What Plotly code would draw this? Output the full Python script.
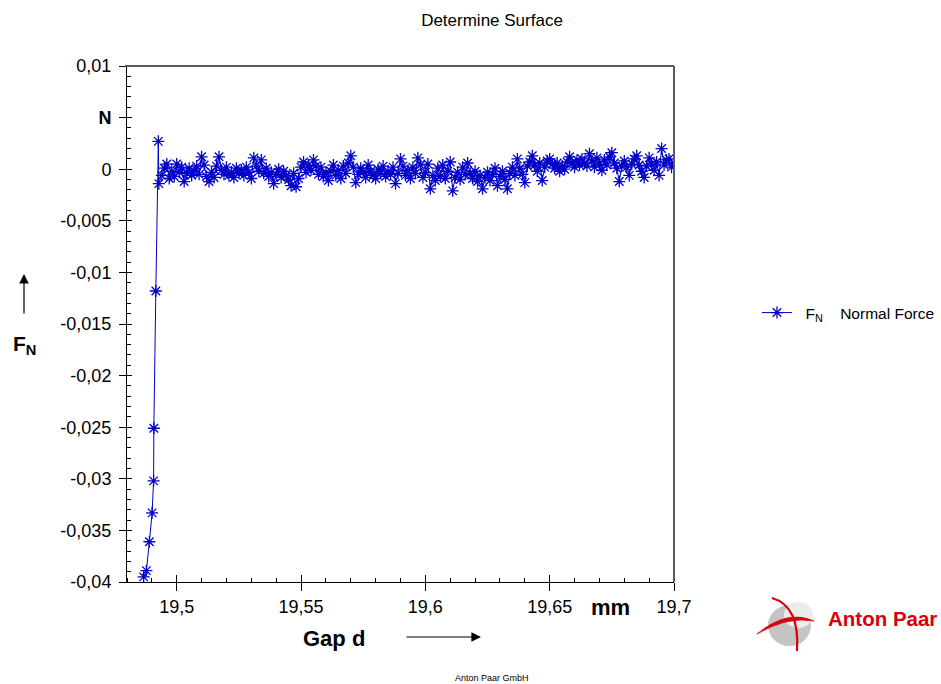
import plotly.graph_objects as go

# ---------------- data ----------------
gap_mm = [
    19.4867, 19.4878, 19.4890, 19.4901, 19.4907, 19.4908, 19.4916, 19.4926, 19.4928,
    19.494, 19.495, 19.496, 19.497, 19.498, 19.499, 19.500, 19.501, 19.502, 19.503,
    19.504, 19.505, 19.506, 19.507, 19.508, 19.509, 19.510, 19.511, 19.512, 19.513,
    19.514, 19.515, 19.516, 19.517, 19.518, 19.519, 19.520, 19.521, 19.522, 19.523,
    19.524, 19.525, 19.526, 19.527, 19.528, 19.529, 19.530, 19.531, 19.532, 19.533,
    19.534, 19.535, 19.536, 19.537, 19.538, 19.539, 19.540, 19.541, 19.542, 19.543,
    19.544, 19.545, 19.546, 19.547, 19.548, 19.549, 19.550, 19.551, 19.552, 19.553,
    19.554, 19.555, 19.556, 19.557, 19.558, 19.559, 19.560, 19.561, 19.562, 19.563,
    19.564, 19.565, 19.566, 19.567, 19.568, 19.569, 19.570, 19.571, 19.572, 19.573,
    19.574, 19.575, 19.576, 19.577, 19.578, 19.579, 19.580, 19.581, 19.582, 19.583,
    19.584, 19.585, 19.586, 19.587, 19.588, 19.589, 19.590, 19.591, 19.592, 19.593,
    19.594, 19.595, 19.596, 19.597, 19.598, 19.599, 19.600, 19.601, 19.602, 19.603,
    19.604, 19.605, 19.606, 19.607, 19.608, 19.609, 19.610, 19.611, 19.612, 19.613,
    19.614, 19.615, 19.616, 19.617, 19.618, 19.619, 19.620, 19.621, 19.622, 19.623,
    19.624, 19.625, 19.626, 19.627, 19.628, 19.629, 19.630, 19.631, 19.632, 19.633,
    19.634, 19.635, 19.636, 19.637, 19.638, 19.639, 19.640, 19.641, 19.642, 19.643,
    19.644, 19.645, 19.646, 19.647, 19.648, 19.649, 19.650, 19.651, 19.652, 19.653,
    19.654, 19.655, 19.656, 19.657, 19.658, 19.659, 19.660, 19.661, 19.662, 19.663,
    19.664, 19.665, 19.666, 19.667, 19.668, 19.669, 19.670, 19.671, 19.672, 19.673,
    19.674, 19.675, 19.676, 19.677, 19.678, 19.679, 19.680, 19.681, 19.682, 19.683,
    19.684, 19.685, 19.686, 19.687, 19.688, 19.689, 19.690, 19.691, 19.692, 19.693,
    19.694, 19.695, 19.696, 19.697, 19.698, 19.699, 19.700,
]

normal_force_N = [
    -0.0395, -0.0389, -0.0361, -0.0333, -0.0302, -0.0251, -0.0118, 0.0027, -0.0014,
    -0.0006, 0.0001, 0.0005, -0.0009, -0.0002, -0.0007, 0.0005, -0.0003, 0.0002, -0.0012,
    -0.0004, 0.0001, -0.0006, -0.0002, 0.0003, -0.0005, 0.0012, 0.0004, -0.0007, -0.0012,
    -0.0003, -0.0008, 0.0003, 0.0012, -0.0001, -0.0005, 0.0002, -0.0006, -0.0003, -0.0008,
    0.0001, -0.0004, -0.0001, -0.0006, 0.0002, -0.0003, -0.0009, 0.0011, 0.0003, -0.0002,
    0.0009, -0.0004, 0.0001, -0.0007, -0.0003, -0.0014, -0.0005, 0.0000, -0.0008, -0.0002,
    -0.0006, -0.0010, -0.0016, -0.0004, -0.0017, -0.0009, 0.0002, 0.0007, -0.0003, 0.0004,
    -0.0001, 0.0009, 0.0003, -0.0005, 0.0002, -0.0007, -0.0003, -0.0011, -0.0002, 0.0004,
    -0.0006, -0.0001, -0.0009, 0.0003, -0.0004, 0.0006, 0.0013, 0.0002, -0.0013, -0.0005,
    0.0001, -0.0003, -0.0008, 0.0004, -0.0002, -0.0006, -0.0009, 0.0000, -0.0004, 0.0003,
    -0.0007, -0.0002, -0.0005, 0.0002, -0.0014, -0.0004, 0.0010, 0.0003, -0.0006, -0.0001,
    -0.0009, 0.0002, -0.0004, 0.0011, 0.0004, -0.0008, -0.0003, 0.0005, -0.0019, -0.0006,
    -0.0011, 0.0001, -0.0007, 0.0004, -0.0009, -0.0002, 0.0007, -0.0021, -0.0008, -0.0003,
    -0.0010, 0.0002, -0.0005, 0.0006, -0.0004, -0.0009, -0.0002, -0.0012, -0.0006, -0.0019,
    -0.0008, -0.0003, -0.0011, -0.0005, 0.0001, -0.0016, -0.0007, -0.0002, -0.0010, -0.0019,
    -0.0004, 0.0002, -0.0006, 0.0010, 0.0001, -0.0005, -0.0013, 0.0003, 0.0007, 0.0013,
    0.0004, -0.0002, 0.0006, -0.0011, 0.0002, 0.0008, 0.0010, 0.0005, 0.0001, 0.0006,
    -0.0002, 0.0003, 0.0000, 0.0007, 0.0012, 0.0006, 0.0002, 0.0009, 0.0004, 0.0010,
    0.0006, 0.0003, 0.0015, 0.0008, 0.0002, 0.0011, 0.0005, -0.0001, 0.0009, 0.0004,
    0.0012, 0.0016, 0.0006, 0.0001, -0.0012, 0.0003, 0.0008, 0.0002, -0.0006, 0.0005,
    0.0010, 0.0013, 0.0004, -0.0002, -0.0008, 0.0003, 0.0011, 0.0005, -0.0001, 0.0007,
    -0.0006, 0.0020, 0.0004, 0.0009, 0.0010, 0.0002, 0.0006,
]

y_tick_vals = [0.01, 0.005, 0, -0.005, -0.01, -0.015, -0.02, -0.025, -0.03, -0.035, -0.04]
y_tick_text = ["0,01", "<b>N</b>", "0", "-0,005", "-0,01", "-0,015", "-0,02",
               "-0,025", "-0,03", "-0,035", "-0,04"]
x_tick_vals = [19.5, 19.55, 19.6, 19.65, 19.7]
x_tick_text = ["19,5", "19,55", "19,6", "19,65", "19,7"]

# ---------------- layout geometry ----------------
OFF = 0                      # body margin removed by the post script below
W, H = 941 - OFF, 684 - OFF  # figure size
PL, PR, PT, PB = 127, 674, 66, 582   # plot area in screen pixels
L, T = PL - OFF, PT - OFF
R, B = W - (PR - OFF), H - (PB - OFF)
X_RANGE = [19.48, 19.7]
Y_RANGE = [-0.04, 0.01]


def px(xp):
    return (xp - PL) / (PR - PL)


def py(yp):
    return (PB - yp) / (PB - PT)


BLUE = "#0000c8"
FONT = "Liberation Sans, Arial, sans-serif"
RED = "#d7000f"

fig = go.Figure()
fig.add_trace(go.Scatter(
    x=gap_mm, y=normal_force_N, mode="lines+markers",
    name="\u00a0\u00a0F<sub>N</sub>\u00a0\u00a0\u00a0\u00a0Normal Force",
    line=dict(color=BLUE, width=1),
    marker=dict(symbol="asterisk-open", size=10, color=BLUE,
                line=dict(color=BLUE, width=1.3)),
))
# helper overlay axes for the inner half of the major ticks
fig.add_trace(go.Scatter(x=[X_RANGE[0]], y=[Y_RANGE[0]], xaxis="x2", yaxis="y2",
                         mode="markers", marker=dict(opacity=0), showlegend=False,
                         hoverinfo="skip"))

fig.update_layout(
    width=W, height=H, autosize=False,
    margin=dict(l=L, r=R, t=T, b=B, pad=0, autoexpand=False),
    paper_bgcolor="white", plot_bgcolor="white",
    font=dict(family=FONT, color="black"),
    title=dict(text="Determine Surface", x=(492 - OFF) / W, xref="container",
               xanchor="center", y=1 - (20 - OFF) / H, yref="container", yanchor="middle",
               font=dict(size=17, family=FONT, color="black")),
    showlegend=True,
    legend=dict(x=px(757), xanchor="left", y=py(313), yanchor="middle",
                font=dict(size=15.5, family=FONT, color="black"),
                bgcolor="rgba(0,0,0,0)", itemwidth=30),
    xaxis=dict(range=X_RANGE, showgrid=False, zeroline=False,
               showline=True, linecolor="black", linewidth=1,
               tickmode="array", tickvals=x_tick_vals, ticktext=x_tick_text,
               ticks="outside", ticklen=8, tickcolor="black", tickwidth=1,
               tickfont=dict(size=18, family=FONT, color="black"),
               minor=dict(ticks="inside", ticklen=4, tickcolor="black",
                          tickmode="linear", tick0=19.5, dtick=0.01)),
    yaxis=dict(range=Y_RANGE, showgrid=False, zeroline=False,
               showline=True, linecolor="black", linewidth=1,
               tickmode="array", tickvals=y_tick_vals, ticktext=y_tick_text,
               ticks="outside", ticklen=7, tickcolor="black", tickwidth=1,
               ticklabelstandoff=4,
               tickfont=dict(size=18, family=FONT, color="black"),
               minor=dict(ticks="inside", ticklen=4, tickcolor="black",
                          tickmode="linear", tick0=0, dtick=0.001)),
    xaxis2=dict(range=X_RANGE, overlaying="x", anchor="y2", side="bottom",
                showgrid=False, zeroline=False, showline=False,
                tickmode="array", tickvals=x_tick_vals, showticklabels=False,
                ticks="inside", ticklen=7, tickcolor="black"),
    yaxis2=dict(range=Y_RANGE, overlaying="y", anchor="x2", side="left",
                showgrid=False, zeroline=False, showline=False,
                tickmode="array", tickvals=y_tick_vals, showticklabels=False,
                ticks="inside", ticklen=5, tickcolor="black"),
)

shapes = [
    # gray frame top and right
    dict(type="line", xref="paper", yref="paper", x0=px(125), x1=1, y0=1, y1=1,
         line=dict(color="#5a5a5a", width=2)),
    dict(type="line", xref="paper", yref="paper", x0=1, x1=1, y0=0, y1=1,
         line=dict(color="#5a5a5a", width=2)),
    # logo: gray sphere
    dict(type="circle", xref="paper", yref="paper",
         x0=px(768), x1=px(811), y0=py(646), y1=py(605),
         fillcolor="#c4c4c4", line=dict(width=0)),
    dict(type="circle", xref="paper", yref="paper",
         x0=px(784), x1=px(813), y0=py(628), y1=py(602),
         fillcolor="#ececec", line=dict(width=0)),
    # logo: red arc
    dict(type="path", xref="paper", yref="paper",
         path="M {:.5f},{:.5f} Q {:.5f},{:.5f} {:.5f},{:.5f}".format(
             px(772), py(598), px(800), py(606), px(797), py(651)),
         line=dict(color=RED, width=2.2)),
    # logo: red swoosh
    dict(type="path", xref="paper", yref="paper",
         path="M {:.5f},{:.5f} Q {:.5f},{:.5f} {:.5f},{:.5f} Q {:.5f},{:.5f} {:.5f},{:.5f} Z".format(
             px(757), py(634), px(787), py(609), px(814), py(621),
             px(787), py(616), px(757), py(634)),
         fillcolor=RED, line=dict(color=RED, width=0.8)),
]
fig.update_layout(shapes=shapes)


def note(text, x, y, size, bold=False, color="black", xanchor="center"):
    return dict(text=("<b>%s</b>" % text) if bold else text, x=px(x), y=py(y),
                xref="paper", yref="paper", xanchor=xanchor, yanchor="middle",
                showarrow=False, font=dict(size=size, family=FONT, color=color))


annotations = [
    note("mm", 610, 607, 22, bold=True),
    note("Gap d", 334, 638, 22, bold=True),
    note("F<sub>N</sub>", 24, 345, 21, bold=True),
    note("Anton Paar", 939, 618, 20.5, bold=True, color=RED, xanchor="right"),
    note("Anton Paar GmbH", 492, 678, 9),
    dict(text="", x=px(481), y=py(637), xref="paper", yref="paper",
         ax=-76, ay=0, showarrow=True, arrowhead=2, arrowsize=1.6, arrowwidth=1.2,
         arrowcolor="black"),
    dict(text="", x=px(24), y=py(274), xref="paper", yref="paper",
         ax=0, ay=41, showarrow=True, arrowhead=2, arrowsize=1.6, arrowwidth=1.2,
         arrowcolor="black"),
]
fig.update_layout(annotations=annotations)

fig.write_html(
    "out.html",
    config={"displayModeBar": False},
    post_script="document.body.style.margin='0';document.body.style.overflow='hidden';",
)
